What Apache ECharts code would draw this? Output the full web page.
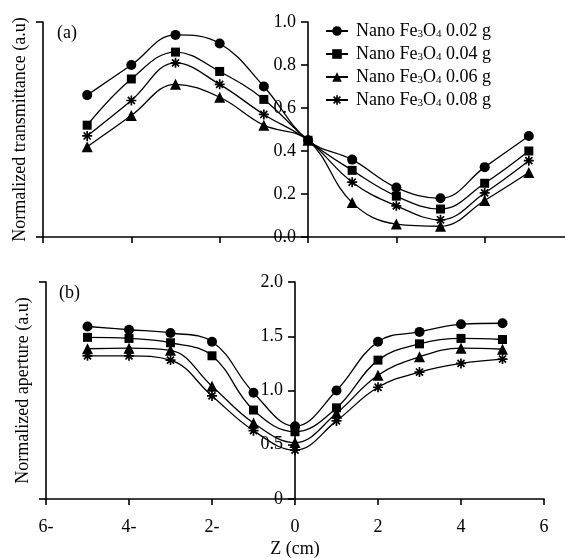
<!DOCTYPE html>
<html>
<head>
<meta charset="utf-8">
<title>Z-scan</title>
<script src="https://cdn.jsdelivr.net/npm/echarts@6/dist/echarts.min.js"></script>
<style>
  body { margin: 0; background: #fff; }
  #main { width: 565px; height: 558px; }
</style>
</head>
<body>
<div id="main"></div>
<script>
// z positions (cm)
var zPos = [-5, -4, -3, -2, -1, 0, 1, 2, 3, 4, 5];
var names = ['Nano Fe3O4 0.02 g', 'Nano Fe3O4 0.04 g', 'Nano Fe3O4 0.06 g', 'Nano Fe3O4 0.08 g'];

// (a) normalized transmittance
var trans002 = [0.66, 0.80, 0.94, 0.90, 0.70, 0.45, 0.36, 0.23, 0.18, 0.325, 0.47];
var trans004 = [0.52, 0.735, 0.86, 0.77, 0.64, 0.45, 0.31, 0.19, 0.13, 0.25, 0.40];
var trans006 = [0.42, 0.565, 0.71, 0.65, 0.52, 0.45, 0.16, 0.06, 0.05, 0.17, 0.30];
var trans008 = [0.47, 0.635, 0.81, 0.71, 0.57, 0.45, 0.255, 0.145, 0.08, 0.205, 0.355];

// (b) normalized aperture
var aper002 = [1.59, 1.56, 1.53, 1.45, 0.98, 0.67, 1.00, 1.45, 1.54, 1.61, 1.62];
var aper004 = [1.49, 1.48, 1.44, 1.32, 0.82, 0.62, 0.84, 1.28, 1.43, 1.48, 1.47];
var aper006 = [1.385, 1.39, 1.37, 1.04, 0.70, 0.52, 0.79, 1.14, 1.31, 1.39, 1.38];
var aper008 = [1.32, 1.32, 1.28, 0.95, 0.63, 0.45, 0.72, 1.03, 1.17, 1.25, 1.29];

var FONT = 'Liberation Serif';

// panel boxes: left edge = z -6, zero axis sits in the middle
var panels = [
    { left: 43, top: 22, width: 530, height: 215 },
    { left: 46, top: 282, width: 498, height: 217 }
];

// asterisk marker made of 4 thin bars
function asteriskPath() {
    var L = 10, t = 1.7, d = '';
    [0, 45, 90, 135].forEach(function (deg) {
        var a = deg * Math.PI / 180;
        var ux = Math.cos(a), uy = Math.sin(a), px = -uy, py = ux;
        var pts = [
            [L * ux + t * px, L * uy + t * py],
            [-L * ux + t * px, -L * uy + t * py],
            [-L * ux - t * px, -L * uy - t * py],
            [L * ux - t * px, L * uy - t * py]
        ];
        d += 'M' + pts.map(function (p) { return p[0].toFixed(2) + ' ' + p[1].toFixed(2); }).join('L') + 'Z';
    });
    return 'path://' + d;
}

var symbols = ['circle', 'rect', 'triangle', asteriskPath()];
var symSizes = [10, 9, 11, 10];

function pairs(ys) {
    return zPos.map(function (z, i) { return [z, ys[i]]; });
}

var lineSt = { color: '#000', width: 1.6 };

function makeSeries(list, gi) {
    return list.map(function (ys, i) {
        return {
            name: names[i],
            type: 'line',
            xAxisIndex: gi,
            yAxisIndex: gi,
            data: pairs(ys),
            smooth: 0.4,
            symbol: symbols[i],
            symbolSize: symSizes[i],
            showAllSymbol: true,
            lineStyle: { color: '#000', width: 1.3 },
            itemStyle: { color: '#000' },
            emphasis: { disabled: true },
            animation: false
        };
    });
}

// y axis through z = 0, with labels
function zeroAxis(gi, max, step, fmt) {
    return {
        gridIndex: gi, type: 'value', min: 0, max: max, interval: step,
        position: 'left', offset: -panels[gi].width / 2,
        axisLine: { show: true, onZero: false, lineStyle: lineSt },
        axisTick: { length: 7, lineStyle: lineSt },
        axisLabel: { margin: 12, fontFamily: FONT, fontSize: 18, color: '#000', formatter: fmt },
        splitLine: { show: false }
    };
}

// bare y axis on the left edge, carries the axis title
function edgeAxis(gi, max, title) {
    return {
        gridIndex: gi, type: 'value', min: 0, max: max, interval: max,
        position: 'left',
        name: title, nameLocation: 'middle', nameGap: 14,
        nameTextStyle: { fontFamily: FONT, fontSize: 18, color: '#000' },
        axisLine: { show: true, onZero: false, lineStyle: lineSt },
        axisTick: { length: 7, lineStyle: lineSt },
        axisLabel: { show: false },
        splitLine: { show: false }
    };
}

function hiddenX(gi) {
    return { gridIndex: gi, type: 'value', min: -6, max: 6, show: false };
}

var myChart = echarts.init(document.getElementById('main'));

var gridOf = function (p) {
    return { left: p.left, top: p.top, width: p.width, height: p.height, outerBoundsMode: 'none', containLabel: false };
};

var option = {
    backgroundColor: '#fff',
    textStyle: { fontFamily: FONT, color: '#000' },
    title: [
        { text: '(a)', left: 52, top: 19, textStyle: { fontFamily: FONT, fontSize: 18, fontWeight: 'normal', color: '#000' } },
        { text: '(b)', left: 54, top: 279, textStyle: { fontFamily: FONT, fontSize: 18, fontWeight: 'normal', color: '#000' } }
    ],
    legend: {
        orient: 'vertical',
        left: 320,
        top: 17,
        itemGap: 5,
        itemWidth: 22,
        itemHeight: 12,
        data: names,
        formatter: function (n) { return n.replace('Fe3O4', 'Fe{s|3}O{s|4}'); },
        textStyle: {
            fontFamily: FONT, fontSize: 18, color: '#000', padding: [0, 0, 0, 3],
            rich: { s: { fontFamily: FONT, fontSize: 11, color: '#000', verticalAlign: 'bottom', padding: [7, 0, 0, 0] } }
        }
    },
    grid: [gridOf(panels[0]), gridOf(panels[1]), gridOf(panels[0]), gridOf(panels[1])],
    xAxis: [
        {
            gridIndex: 0, type: 'value', min: -6, max: 6, interval: 2,
            axisLine: { onZero: false, lineStyle: lineSt },
            axisTick: { length: 6, lineStyle: lineSt },
            axisLabel: { show: false },
            splitLine: { show: false }
        },
        {
            gridIndex: 1, type: 'value', min: -6, max: 6, interval: 2,
            name: 'Z (cm)', nameLocation: 'middle', nameGap: 41,
            nameTextStyle: { fontFamily: FONT, fontSize: 18, color: '#000' },
            axisLine: { onZero: false, lineStyle: lineSt },
            axisTick: { length: 6, lineStyle: lineSt },
            axisLabel: {
                margin: 19, fontFamily: FONT, fontSize: 18, color: '#000',
                formatter: function (v) { return v < 0 ? Math.abs(v) + '-' : String(v); }
            },
            splitLine: { show: false }
        },
        hiddenX(2),
        hiddenX(3)
    ],
    yAxis: [
        zeroAxis(0, 1, 0.2, function (v) { return v.toFixed(1); }),
        zeroAxis(1, 2, 0.5, function (v) { return v === 0 ? '0' : v.toFixed(1); }),
        edgeAxis(2, 1, 'Normalized transmittance (a.u)'),
        edgeAxis(3, 2, 'Normalized aperture (a.u)')
    ],
    series: makeSeries([trans002, trans004, trans006, trans008], 0)
        .concat(makeSeries([aper002, aper004, aper006, aper008], 1))
};

myChart.setOption(option);
</script>
</body>
</html>
